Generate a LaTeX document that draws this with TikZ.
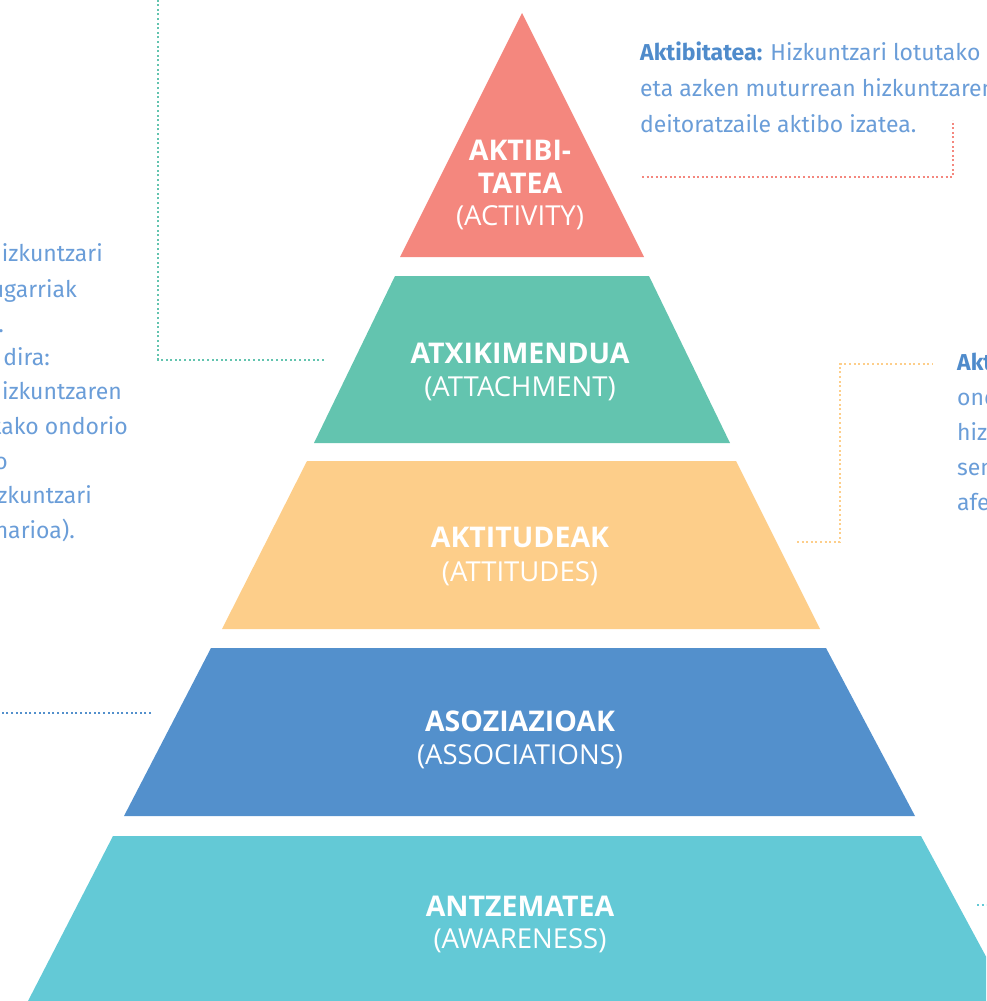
\documentclass[tikz,border=0pt]{standalone}
\usepackage{fontspec}
\setmainfont{Fira Sans}
\newfontfamily\lvlfont{Open Sans}
\usepackage{tikz}
\usepackage{color}
\definecolor{actred}{HTML}{F4877E}
\definecolor{attgreen}{HTML}{63C4AF}
\definecolor{atdorange}{HTML}{FDCE8A}
\definecolor{assblue}{HTML}{5390CC}
\definecolor{awacyan}{HTML}{63C9D6}
\definecolor{noteblue}{HTML}{6A9DD8}
\definecolor{notebold}{HTML}{4F8BCB}

\begin{document}
\begin{tikzpicture}[x=1pt,y=-1pt]
\tikzstyle{every node}+=[inner sep=0pt]
\tikzstyle{lvltitle}=[text=white,font=\lvlfont\fontsize{28.5}{33}\selectfont\bfseries,align=center]
\tikzstyle{lvlsub}=[text=white,font=\lvlfont\fontsize{27.5}{30}\selectfont]
\tikzstyle{note}=[text=noteblue,font=\fontsize{23}{27}\selectfont,anchor=base west]
\tikzstyle{cutnote}=[text=noteblue,font=\fontsize{23}{27}\selectfont,anchor=base east]
\tikzstyle{leader}=[line width=2pt,dash pattern=on 2pt off 2.6pt]
\useasboundingbox (0,0) rectangle (986,1001);
\clip (0,0) rectangle (986,1001);
% pyramid layers
\fill [actred] (522,13) -- (644,257) -- (400,257) -- cycle;
\fill [attgreen] (395,276) -- (649,276) -- (730,443) -- (314,443) -- cycle;
\fill [atdorange] (307,461) -- (736,461) -- (820,629) -- (222,629) -- cycle;
\fill [assblue] (211,648) -- (826,648) -- (915,816) -- (124,816) -- cycle;
\fill [awacyan] (113,836) -- (921,836) -- (1010,1001) -- (28,1001) -- cycle;
% layer labels
\node [lvltitle] (activity) at (520,167) {AKTIBI-\\TATEA};
\node [lvlsub] (activitysub) at (520,218) {(ACTIVITY)};
\node [lvltitle] (attachment) at (520,353) {ATXIKIMENDUA};
\node [lvlsub] (attachmentsub) at (520,389) {(ATTACHMENT)};
\node [lvltitle] (attitudes) at (520,537) {AKTITUDEAK};
\node [lvlsub] (attitudessub) at (520,574) {(ATTITUDES)};
\node [lvltitle] (associations) at (520,721) {ASOZIAZIOAK};
\node [lvlsub] (associationssub) at (520,757) {(ASSOCIATIONS)};
\node [lvltitle] (awareness) at (520,906) {ANTZEMATEA};
\node [lvlsub] (awarenesssub) at (520,941) {(AWARENESS)};
% notes
\node [note] (actnote1) at (640,60) {\textcolor{notebold}{\bfseries Aktibitatea:} Hizkuntzari lotutako};
\node [note] (actnote2) at (640,96) {eta azken muturrean hizkuntzaren};
\node [note] (actnote3) at (640,132) {deitoratzaile aktibo izatea.};
\node [note] (atdnote1) at (957,370) {\textcolor{notebold}{\bfseries Akt}};
\node [note] (atdnote2) at (957,405) {ond};
\node [note] (atdnote3) at (957,440) {hiz};
\node [note] (atdnote4) at (957,475) {sen};
\node [note] (atdnote5) at (957,510) {afe};
\node [cutnote] (attnote1) at (103,261) {hizkuntzari};
\node [cutnote] (attnote2) at (77,297) {ugarriak};
\node [cutnote] (attnote3) at (4,332) {.};
\node [cutnote] (attnote4) at (50,365) {dira:};
\node [cutnote] (attnote5) at (122,399) {hizkuntzaren};
\node [cutnote] (attnote6) at (128,434) {tako ondorio};
\node [cutnote] (attnote7) at (8,469) {o};
\node [cutnote] (attnote8) at (92,503) {zkuntzari};
\node [cutnote] (attnote9) at (75,538) {narioa).};
% leader lines
\coordinate (actA) at (642,177);
\coordinate (actB) at (953,120);
\coordinate (attA) at (324,360);
\coordinate (attB) at (158,0);
\coordinate (atdA) at (797,542);
\coordinate (atdB) at (933,364);
\coordinate (assA) at (151,713);
\coordinate (assB) at (0,713);
\coordinate (awaA) at (977,905);
\coordinate (awaB) at (990,905);
\draw [leader,actred] (actA) -| (actB);
\draw [leader,attgreen] (attA) -| (attB);
\draw [leader,atdorange] (atdA) -- (840,542) |- (atdB);
\draw [leader,assblue] (assA) -- (assB);
\draw [leader,awacyan] (awaA) -- (awaB);
\end{tikzpicture}
\end{document}
